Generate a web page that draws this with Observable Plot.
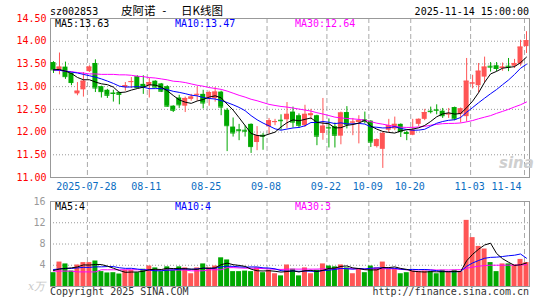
<!DOCTYPE html>
<html><head><meta charset="utf-8">
<script src="https://cdn.jsdelivr.net/npm/d3@7"></script>
<script src="https://cdn.jsdelivr.net/npm/@observablehq/plot@0.6"></script>
<style>
body{margin:0;background:#fff}
#wrap{position:relative;width:545px;height:300px;overflow:hidden;background:#fff}
#wrap svg{position:absolute;left:0}
</style></head><body><div id="wrap"></div>
<script>
// ---- data ----
const days = [
"2025-07-18","2025-07-21","2025-07-22","2025-07-23","2025-07-24","2025-07-25",
"2025-07-28","2025-07-29","2025-07-30","2025-07-31","2025-08-01",
"2025-08-04","2025-08-05","2025-08-06","2025-08-07","2025-08-08",
"2025-08-11","2025-08-12","2025-08-13","2025-08-14","2025-08-15",
"2025-08-18","2025-08-19","2025-08-20","2025-08-21","2025-08-22",
"2025-08-25","2025-08-26","2025-08-27","2025-08-28","2025-08-29",
"2025-09-01","2025-09-02","2025-09-03","2025-09-04","2025-09-05",
"2025-09-08","2025-09-09","2025-09-10","2025-09-11","2025-09-12",
"2025-09-15","2025-09-16","2025-09-17","2025-09-18","2025-09-19",
"2025-09-22","2025-09-23","2025-09-24","2025-09-25","2025-09-26",
"2025-09-29","2025-09-30","2025-10-09","2025-10-10",
"2025-10-13","2025-10-14","2025-10-15","2025-10-16","2025-10-17",
"2025-10-20","2025-10-21","2025-10-22","2025-10-23","2025-10-24",
"2025-10-27","2025-10-28","2025-10-29","2025-10-30","2025-10-31",
"2025-11-03","2025-11-04","2025-11-05","2025-11-06","2025-11-07",
"2025-11-10","2025-11-11","2025-11-12","2025-11-13","2025-11-14"];

const open = [13.53,13.37,13.43,13.29,12.84,12.93,13.33,13.51,13.00,12.92,
 12.86,12.87,12.98,13.10,13.22,13.05,13.02,13.12,13.06,13.00,
 12.57,12.75,12.57,12.72,12.82,12.83,12.75,12.74,12.88,12.48,
 12.11,12.05,12.04,12.17,11.77,11.93,12.12,12.21,12.26,12.27,
 12.44,12.36,12.14,12.36,12.36,11.97,12.10,12.12,11.91,12.43,
 12.20,12.21,12.27,12.24,11.68,11.62,12.04,12.07,12.17,11.99,
 11.93,12.17,12.28,12.46,12.49,12.46,12.38,12.54,12.39,12.34,
 13.06,13.02,13.21,13.45,13.46,13.40,13.45,13.45,13.50,13.88];
const high = [13.55,13.74,13.54,13.30,13.09,13.31,13.46,13.59,13.01,12.94,
 12.92,12.88,13.09,13.20,13.24,13.24,13.18,13.13,13.07,13.02,
 12.58,12.81,12.77,12.83,12.99,12.92,12.90,12.98,12.90,12.52,
 12.31,12.17,12.14,12.18,12.12,11.97,12.30,12.28,12.38,12.65,
 12.55,12.40,12.59,12.50,12.37,12.74,12.29,12.20,12.44,12.56,
 12.30,12.36,12.44,12.25,11.85,12.00,12.28,12.33,12.18,12.02,
 12.28,12.29,12.50,12.55,12.60,12.52,12.52,12.55,12.53,13.62,
 13.25,13.51,13.65,13.53,13.53,13.52,13.62,13.60,14.02,14.21];
const low = [13.29,13.26,13.16,13.02,12.80,12.77,13.31,12.87,12.75,12.74,
 12.66,12.60,12.90,12.96,12.96,12.83,12.75,12.97,12.87,12.55,
 12.43,12.52,12.43,12.68,12.68,12.51,12.57,12.66,12.36,11.57,
 11.89,11.81,11.89,11.53,11.59,11.60,11.95,12.14,12.04,12.08,
 12.09,12.08,12.10,12.27,11.70,11.82,11.65,11.65,11.72,12.07,
 11.92,11.74,12.18,11.66,11.65,11.20,11.99,12.03,11.88,11.81,
 11.92,12.12,12.25,12.40,12.38,12.30,12.30,12.25,12.20,12.22,
 12.95,12.86,13.07,13.32,13.33,13.34,13.33,13.40,13.45,13.73];
const close = [13.37,13.43,13.22,13.09,12.90,13.12,13.43,12.97,12.89,12.81,
 12.85,12.83,13.02,13.11,12.98,13.00,13.09,12.99,12.90,12.57,
 12.48,12.60,12.74,12.77,12.83,12.64,12.87,12.88,12.55,12.14,
 11.98,12.03,12.02,11.68,11.92,11.91,12.25,12.23,12.25,12.39,
 12.22,12.15,12.39,12.40,11.91,12.13,12.09,11.93,12.42,12.17,
 12.22,12.25,12.24,11.78,11.83,11.97,12.14,12.17,12.01,11.97,
 12.04,12.28,12.43,12.45,12.48,12.36,12.40,12.29,12.51,13.12,
 13.08,13.34,13.43,13.43,13.40,13.43,13.43,13.51,13.87,14.01];
// volume, 万手
const volume = [2.6,4.6,4.25,2.9,4.05,4.5,4.5,4.8,2.8,2.55,
 2.6,2.35,3.05,3.05,2.6,3.25,3.85,3.5,2.8,3.7,
 3.05,3.7,3.5,2.4,3.5,4.25,3.5,3.85,5.4,5.0,
 2.8,2.8,2.9,2.8,3.5,2.6,3.05,2.4,2.0,4.05,
 3.25,2.0,3.5,2.4,3.05,4.25,3.85,3.7,4.05,3.5,
 2.4,3.25,2.6,3.85,3.5,4.6,3.25,3.25,2.4,2.6,
 2.9,2.8,2.9,2.8,2.4,3.05,2.8,3.05,2.8,12.45,
 9.2,7.55,7.05,4.5,2.8,4.25,4.25,4.05,5.1,4.5];

// moving-average values before a full window exists (history is off-chart)
const ma5Head  = [13.37,13.38,13.34,13.29];
const ma10Head = [13.37,13.36,13.34,13.32,13.30,13.27,13.24,13.21,13.17];
const ma30Head = [13.37,13.36,13.34,13.33,13.31,13.30,13.28,13.28,13.27,13.27,
 13.27,13.26,13.26,13.25,13.23,13.22,13.20,13.19,13.17,13.15,
 13.12,13.11,13.09,13.06,13.03,13.01,12.98,12.96,12.94];
const volMa5Head  = [3.0,3.3,3.4,3.5];
const volMa10Head = [3.2,3.3,3.4,3.4,3.5,3.6,3.6,3.7,3.7];
const volMa30Head = [2.9,2.9,2.9,2.9,2.75,2.75,2.75,2.75,3.15,3.15,
 3.15,3.15,3.15,3.15,3.15,3.15,3.1,3.1,3.1,3.1,
 3.1,3.1,3.1,2.95,2.95,2.95,3.15,3.15,3.15];

const priceTicks = [11,11.5,12,12.5,13,13.5,14,14.5];
const volTicks = [4,8,12,16];
const tickDays = ["2025-07-28","2025-08-11","2025-08-25","2025-09-08","2025-09-22","2025-10-09","2025-10-20","2025-11-03","2025-11-14"];
const tickLabels = ["2025-07-28","08-11","08-25","09-08","09-22","10-09","10-20","11-03","11-14"];
const headerCode = "sz002853", headerName = "皮阿诺", headerKind = "日K线图", headerTime = "2025-11-14 15:00:00";
const priceLegend = ["MA5:13.63","MA10:13.47","MA30:12.64"];
const volLegend = ["MA5:4","MA10:4","MA30:3"];
const unitLabel = "x万", copyright = "Copyright 2025 SINA.COM", site = "http://finance.sina.com.cn";

// ---- build ----
const RED = "#ff5555", GREEN = "#00a800", MONO = "'DejaVu Sans Mono', monospace";
const ma = (vals, k, head) => vals.map((v, i) => i < k - 1 ? head[i] : d3.mean(vals.slice(i - k + 1, i + 1)));
const m5 = ma(close, 5, ma5Head), m10 = ma(close, 10, ma10Head), m30 = ma(close, 30, ma30Head);
const v5 = ma(volume, 5, volMa5Head), v10 = ma(volume, 10, volMa10Head), v30 = ma(volume, 30, volMa30Head);
const rows = days.map((day, i) => ({
  day, open: open[i], high: high[i], low: low[i], close: close[i], vol: volume[i],
  col: close[i] >= open[i] ? RED : GREEN,
  ma5: m5[i], ma10: m10[i], ma30: m30[i], v5: v5[i], v10: v10[i], v30: v30[i]
}));
const labelOf = Object.fromEntries(tickDays.map((d, i) => [d, tickLabels[i]]));
const style = {fontFamily: MONO, fontSize: "10px", background: "none", overflow: "visible"};
const gridX = Plot.ruleX(tickDays, {x: d => d, dx: -2, stroke: "#aaa", strokeDasharray: "5,3"});

const main = Plot.plot({
  width: 545, height: 195, marginTop: 18, marginBottom: 18, marginLeft: 50, marginRight: 16,
  x: {type: "band", domain: days, padding: 0, axis: null, label: null},
  y: {domain: [11, 14.5], axis: null, label: null},
  style,
  marks: [
    Plot.ruleY(priceTicks.slice(1, -1), {stroke: "#999", strokeDasharray: "1,2"}),
    gridX,
    Plot.frame({stroke: "#999"}),
    Plot.ruleX(rows, {x: "day", y1: "low", y2: "high", stroke: "col"}),
    Plot.barY(rows, {x: "day", y1: "open", y2: "close", fill: "col", insetLeft: 0.5, insetRight: 0.5}),
    Plot.tickY(rows, {x: "day", y: "close", stroke: "col", insetLeft: 0.5, insetRight: 0.5}),
    Plot.line(rows, {x: "day", y: "ma30", stroke: "#ff00ff", strokeWidth: 1}),
    Plot.line(rows, {x: "day", y: "ma10", stroke: "#0000ff", strokeWidth: 1}),
    Plot.line(rows, {x: "day", y: "ma5", stroke: "#000", strokeWidth: 1}),
    Plot.axisY(priceTicks, {tickSize: 0, tickPadding: 4, tickFormat: d => d.toFixed(2), color: "#ff0000", label: null}),
    Plot.axisX(tickDays.slice(0, -1), {tickSize: 0, tickPadding: 5, tickFormat: d => labelOf[d], dx: -3, color: "#0a6dc2", label: null}),
    Plot.axisX(tickDays.slice(-1), {tickSize: 0, tickPadding: 5, tickFormat: d => labelOf[d], dx: -20, color: "#0a6dc2", label: null})
  ]
});
main.style.top = "0px";

const vol = Plot.plot({
  width: 545, height: 105, marginTop: 6, marginBottom: 14, marginLeft: 50, marginRight: 16,
  x: {type: "band", domain: days, padding: 0, axis: null, label: null},
  y: {domain: [0, 16], axis: null, label: null},
  style,
  marks: [
    Plot.ruleY(volTicks.slice(0, -1), {stroke: "#999", strokeDasharray: "1,2"}),
    gridX,
    Plot.frame({stroke: "#999"}),
    Plot.barY(rows, {x: "day", y: "vol", fill: "col", insetLeft: 0.5, insetRight: 0.5}),
    Plot.line(rows, {x: "day", y: "v30", stroke: "#ff00ff", strokeWidth: 1}),
    Plot.line(rows, {x: "day", y: "v10", stroke: "#0000ff", strokeWidth: 1}),
    Plot.line(rows, {x: "day", y: "v5", stroke: "#000", strokeWidth: 1}),
    Plot.axisY(volTicks, {tickSize: 0, tickPadding: 5, color: "#999", label: null})
  ]
});
vol.style.top = "195px";

const wrap = document.getElementById("wrap");
wrap.append(main, vol);

// text overlay
const ov = d3.select(wrap).append("svg").attr("width", 545).attr("height", 300)
  .style("top", "0px").style("pointer-events", "none");
const T = (x, y, s, o = {}) => ov.append("text").attr("x", x).attr("y", y).text(s)
  .attr("font-family", o.ff || MONO).attr("font-size", o.fs || 10).attr("fill", o.fill || "#000")
  .attr("text-anchor", o.anchor || "start").attr("font-style", o.italic ? "italic" : null)
  .attr("font-weight", o.bold ? "bold" : null);
T(50, 15, headerCode);
T(121, 15, headerName, {ff: "'Noto Sans CJK SC'", fs: 11.5});
T(161, 14, "-", {fs: 11});
T(181, 15, headerKind, {ff: "'Noto Sans CJK SC'", fs: 11.5});
T(529, 15, headerTime, {anchor: "end"});
T(55, 27, priceLegend[0], {fill: "#000"});
T(175, 27, priceLegend[1], {fill: "#0000ff"});
T(295, 27, priceLegend[2], {fill: "#ff00ff"});
T(55, 210, volLegend[0], {fill: "#000"});
T(175, 210, volLegend[1], {fill: "#0000ff"});
T(295, 210, volLegend[2], {fill: "#ff00ff"});
T(28, 290, unitLabel, {fill: "#c8c8c8", italic: true, ff: "'DejaVu Serif', serif", fs: 11});
T(50, 295, copyright, {fill: "#333"});
T(529, 295, site, {fill: "#333", anchor: "end"});
T(499, 168, "sina", {fill: "#cfcfcf", italic: true, bold: true, ff: "'DejaVu Sans', sans-serif", fs: 15});
</script></body></html>
